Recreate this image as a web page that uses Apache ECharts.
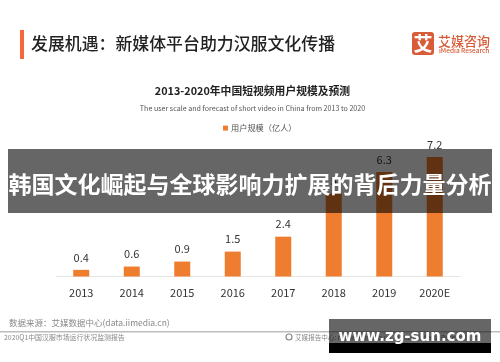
<!DOCTYPE html>
<html>
<head>
<meta charset="utf-8">
<style>
html, body { margin: 0; padding: 0; background: #fff; }
#chartContainer { width: 500px; height: 362px; }
</style>
<script src="https://cdn.jsdelivr.net/npm/echarts@6/dist/echarts.min.js"></script>
</head>
<body>
<div id="chartContainer"></div>
<script>
const cjk = '"Noto Sans CJK SC", "Noto Sans", sans-serif';

const categories = ['2013', '2014', '2015', '2016', '2017', '2018', '2019', '2020E'];
const userScale = [0.4, 0.6, 0.9, 1.5, 2.4, 5.0, 6.3, 7.2];
const seriesName = '用户规模（亿人）';

const pageTitle = '发展机遇：新媒体平台助力汉服文化传播';
const chartTitle = '2013-2020年中国短视频用户规模及预测';
const chartSubtitle = 'The user scale and forecast of short video in China from 2013 to 2020';
const sourceText = '数据来源：艾媒数据中心(data.iimedia.cn)';
const reportText = '2020Q1中国汉服市场运行状况监测报告';
const footerRight = '艾媒报告中心: report.iimedia.cn  ©2020  iiMedia Research  Inc';
const bannerText = '韩国文化崛起与全球影响力扩展的背后力量分析';
const watermark = 'www.zg-sun.com';

function label(x, y, text, size, color, extra, z) {
    return {
        type: 'text',
        x, y,
        z: z || 5,
        style: Object.assign({
            text, fontSize: size, fill: color, fontFamily: cjk,
            textVerticalAlign: 'middle'
        }, extra || {})
    };
}

function box(x, y, width, height, fill, z, r) {
    return { type: 'rect', z, shape: { x, y, width, height, r: r || 0 }, style: { fill } };
}

const chart = echarts.init(document.getElementById('chartContainer'), null, { renderer: 'canvas' });

chart.setOption({
    animation: false,
    backgroundColor: '#fff',
    legend: {
        data: [seriesName],
        left: 218,
        top: 119,
        icon: 'rect',
        itemWidth: 5,
        itemHeight: 5,
        textStyle: { fontSize: 8.2, color: '#555', fontFamily: cjk, padding: [0, 0, 0, -2] }
    },
    grid: { left: 56, top: 143.7, width: 404, height: 132.8 },
    xAxis: {
        type: 'category',
        data: categories,
        axisTick: { show: false },
        axisLine: { lineStyle: { color: '#e6e6e6', width: 1 } },
        axisLabel: { fontSize: 11, color: '#333', margin: 11, fontFamily: cjk }
    },
    yAxis: { type: 'value', min: 0, max: 8, show: false },
    series: [{
        name: seriesName,
        type: 'bar',
        data: userScale,
        barWidth: 16,
        itemStyle: { color: '#ef7d2f' },
        label: { show: true, position: 'top', distance: 7, fontSize: 11, color: '#333', fontFamily: cjk }
    }],
    graphic: [
        box(20, 30, 4, 29, '#f4683a', 5),
        label(31, 44, pageTitle, 16.9, '#222', { fontWeight: 500 }),
        box(412, 32, 22, 23, '#d95c38', 5, 3),
        label(423, 43.5, '艾', 19, '#fff', { fontWeight: 700, textAlign: 'center' }),
        label(438, 41, '艾媒咨询', 13, '#d95c38', { fontWeight: 500 }),
        label(439, 50.5, 'iMedia Research', 6.5, '#d95c38', { fontWeight: 500 }),
        label(252.5, 91, chartTitle, 10.8, '#222', { fontWeight: 700, textAlign: 'center' }),
        label(252.5, 108, chartSubtitle, 7.1, '#555', { textAlign: 'center' }),
        label(9, 323, sourceText, 8.5, '#888'),
        box(0, 331, 500, 1.5, '#bdbdbd', 5),
        label(4, 337.5, reportText, 6.9, '#888'),
        { type: 'circle', z: 5, shape: { cx: 289, cy: 337, r: 3 }, style: { fill: '#fff', stroke: '#888', lineWidth: 1.2 } },
        label(295, 337.5, footerRight, 6.6, '#888'),
        box(8, 149, 484, 64, 'rgba(0,0,0,0.6)', 10),
        label(250, 184, bannerText, 23, '#fff', { fontWeight: 700, textAlign: 'center' }, 11),
        box(329, 319, 162, 24, 'rgba(0,0,0,0.6)', 10),
        box(329, 343, 162, 10, '#000', 10),
        label(410, 337, watermark, 15, '#fff', {
            fontWeight: 700, textAlign: 'center', fontFamily: '"DejaVu Sans", sans-serif'
        }, 11)
    ]
});
</script>
</body>
</html>
